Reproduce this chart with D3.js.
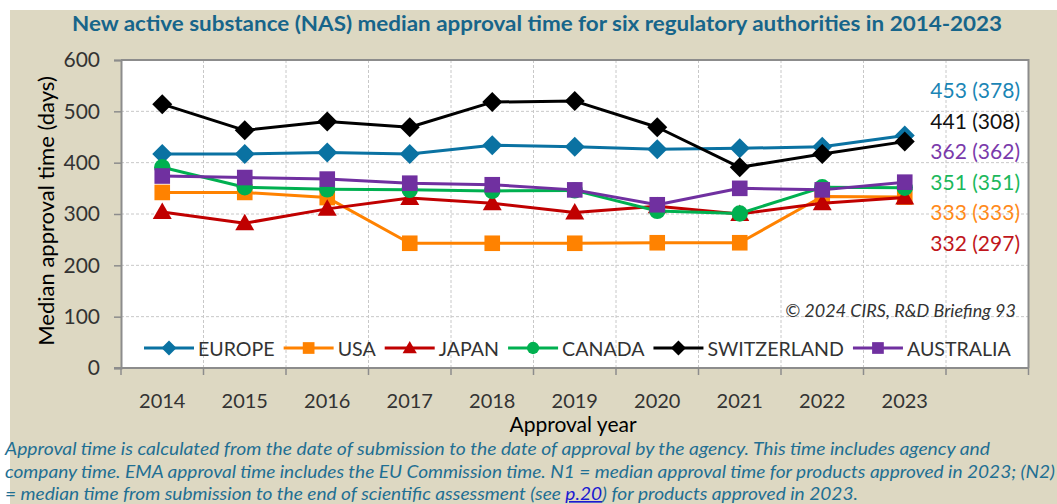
<!DOCTYPE html>
<html>
<head>
<meta charset="utf-8">
<script src="https://d3js.org/d3.v7.min.js"></script>
<style>
  body { margin: 0; background: #fff; }
  svg { display: block; font-family: Lato, "Open Sans", sans-serif; }
</style>
</head>
<body>
<svg width="1057" height="504"></svg>
<script>
// data
var years = ["2014", "2015", "2016", "2017", "2018", "2019", "2020", "2021", "2022", "2023"];
var europe      = [417, 417, 420, 417, 434, 431, 426, 428, 431, 453];
var usa         = [342, 342, 332, 243, 243, 243, 244, 244, 334, 333];
var japan       = [304, 282, 310, 331, 321, 303, 315, 300, 321, 332];
var canada      = [391, 352, 348, 347, 345, 346, 306, 301, 352, 351];
var switzerland = [514, 463, 480, 469, 518, 520, 469, 391, 417, 441];
var australia   = [374, 371, 368, 360, 357, 347, 318, 350, 347, 362];
var seriesNames = ["EUROPE", "USA", "JAPAN", "CANADA", "SWITZERLAND", "AUSTRALIA"];
var endLabels = ["453 (378)", "441 (308)", "362 (362)", "351 (351)", "333 (333)", "332 (297)"];
var endLabelSeries = ["EUROPE", "SWITZERLAND", "AUSTRALIA", "CANADA", "USA", "JAPAN"];
var yTicks = [0, 100, 200, 300, 400, 500, 600];

var values = {
  EUROPE: europe, USA: usa, JAPAN: japan,
  CANADA: canada, SWITZERLAND: switzerland, AUSTRALIA: australia
};
var colors = {
  EUROPE: "#0a72a2", USA: "#ff8200", JAPAN: "#c00000",
  CANADA: "#00b050", SWITZERLAND: "#000000", AUSTRALIA: "#7030a0"
};
var textColors = {
  EUROPE: "#1a85b5", USA: "#ff8a1a", JAPAN: "#c0161c",
  CANADA: "#1cb85c", SWITZERLAND: "#111", AUSTRALIA: "#7a3aab"
};
var shapes = {
  EUROPE: "diamond", USA: "square", JAPAN: "triangle",
  CANADA: "circle", SWITZERLAND: "diamond", AUSTRALIA: "square"
};

var svg = d3.select("svg");

var plotLeft = 121, plotRight = 1028.5, plotTop = 60, plotBottom = 368;

// background
svg.append("rect")
  .attr("x", 10).attr("y", 10).attr("width", 1047).attr("height", 494)
  .attr("fill", "#ddd8c2");
svg.append("rect")
  .attr("x", plotLeft).attr("y", plotTop)
  .attr("width", plotRight - plotLeft).attr("height", plotBottom - plotTop)
  .attr("fill", "#fff");

// scales: 11 bands, the last one is empty room for the labels
var x = d3.scaleBand()
  .domain(years.concat(["_"]))
  .range([plotLeft, plotRight])
  .padding(0);
var y = d3.scaleLinear().domain([0, 600]).range([plotBottom, plotTop]);
var cx = function(i) { return x(years[i]) + x.bandwidth() / 2; };

// grid
var grid = svg.append("g").attr("class", "grid")
  .attr("stroke", "#c8c8c8").attr("stroke-dasharray", "3,2").attr("stroke-width", 1);
grid.selectAll("line.h")
  .data(yTicks.filter(function(d) { return d > 0 && d < 600; }))
  .enter().append("line")
  .attr("x1", plotLeft).attr("x2", plotRight)
  .attr("y1", function(d) { return y(d); }).attr("y2", function(d) { return y(d); });
grid.selectAll("line.v")
  .data(x.domain().slice(1))
  .enter().append("line")
  .attr("y1", plotTop).attr("y2", plotBottom)
  .attr("x1", function(d) { return x(d); }).attr("x2", function(d) { return x(d); });

// frame top / right
svg.append("path")
  .attr("d", "M" + plotLeft + "," + plotTop + "H" + plotRight + "V" + plotBottom)
  .attr("fill", "none").attr("stroke", "#8c8c8c").attr("stroke-width", 2);

// y axis
var yAxis = svg.append("g")
  .attr("transform", "translate(" + plotLeft + ",0)")
  .call(d3.axisLeft(y).tickValues(yTicks).tickSize(7).tickPadding(14));
yAxis.select(".domain").attr("stroke", "#8c8c8c").attr("stroke-width", 2);
yAxis.selectAll(".tick line").attr("stroke", "#8c8c8c").attr("stroke-width", 1.5);
yAxis.selectAll(".tick text")
  .attr("font-size", 21).attr("fill", "#333").attr("font-family", "Lato, sans-serif");

// x axis
var xAxis = svg.append("g").attr("class", "x-axis");
xAxis.append("line")
  .attr("x1", plotLeft - 7).attr("x2", plotRight)
  .attr("y1", plotBottom).attr("y2", plotBottom)
  .attr("stroke", "#8c8c8c").attr("stroke-width", 2);
xAxis.selectAll("line.tick")
  .data(x.domain().map(function(d) { return x(d); }).concat([plotRight]))
  .enter().append("line")
  .attr("x1", function(d) { return d; }).attr("x2", function(d) { return d; })
  .attr("y1", plotBottom).attr("y2", plotBottom + 7)
  .attr("stroke", "#8c8c8c").attr("stroke-width", 1.5);
xAxis.selectAll("text")
  .data(years)
  .enter().append("text")
  .attr("x", function(d, i) { return cx(i); })
  .attr("y", 408)
  .attr("text-anchor", "middle")
  .attr("font-size", 20).attr("fill", "#333")
  .text(function(d) { return d; });

// axis titles
svg.append("text")
  .attr("x", 573).attr("y", 432)
  .attr("text-anchor", "middle").attr("font-size", 21).attr("fill", "#000")
  .text("Approval year");
svg.append("text")
  .attr("transform", "translate(54,211) rotate(-90)")
  .attr("text-anchor", "middle").attr("font-size", 22).attr("fill", "#000")
  .text("Median approval time (days)");

// title
svg.append("text")
  .attr("x", 537).attr("y", 31)
  .attr("text-anchor", "middle").attr("font-size", 21).attr("font-weight", "bold")
  .attr("fill", "#17658a")
  .attr("textLength", 930).attr("lengthAdjust", "spacingAndGlyphs")
  .text("New active substance (NAS) median approval time for six regulatory authorities in 2014-2023");

// marker drawing
function marker(g, shape, s, color) {
  if (shape === "diamond") {
    g.append("path").attr("d", "M0," + (-s) + "L" + s + ",0L0," + s + "L" + (-s) + ",0Z").attr("fill", color);
  } else if (shape === "square") {
    g.append("rect").attr("x", -s * 0.78).attr("y", -s * 0.78)
      .attr("width", s * 1.56).attr("height", s * 1.56).attr("fill", color);
  } else if (shape === "triangle") {
    g.append("path").attr("d", "M0," + (-s * 0.95) + "L" + (s * 0.95) + "," + (s * 0.7) + "L" + (-s * 0.95) + "," + (s * 0.7) + "Z").attr("fill", color);
  } else {
    g.append("circle").attr("r", s * 0.82).attr("fill", color);
  }
}

var line = d3.line()
  .x(function(d, i) { return cx(i); })
  .y(function(d) { return y(d); });

seriesNames.forEach(function(name) {
  var g = svg.append("g").attr("class", "series");
  g.append("path")
    .datum(values[name])
    .attr("d", line)
    .attr("fill", "none")
    .attr("stroke", colors[name])
    .attr("stroke-width", 3)
    .attr("stroke-linejoin", "round");
  values[name].forEach(function(v, i) {
    var m = g.append("g").attr("transform", "translate(" + cx(i) + "," + y(v) + ")");
    marker(m, shapes[name], 10, colors[name]);
  });
});

// legend
var legend = svg.append("g").attr("class", "legend");
var lx = 144;
seriesNames.forEach(function(name) {
  var item = legend.append("g").attr("transform", "translate(" + lx + ",348)");
  item.append("line").attr("x1", 0).attr("x2", 50)
    .attr("stroke", colors[name]).attr("stroke-width", 3);
  marker(item.append("g").attr("transform", "translate(25,0)"), shapes[name], 7.5, colors[name]);
  var t = item.append("text")
    .attr("x", 54).attr("y", 7.5)
    .attr("font-size", 19.6).attr("fill", "#333")
    .text(name);
  lx += 54 + t.node().getComputedTextLength() + 9;
});

// copyright
svg.append("text")
  .attr("x", 1016).attr("y", 317)
  .attr("text-anchor", "end").attr("font-size", 18).attr("font-style", "italic")
  .attr("fill", "#333")
  .text("\u00a9 2024 CIRS, R&D Briefing 93");

// end labels
svg.selectAll("text.end")
  .data(endLabels)
  .enter().append("text")
  .attr("class", "end")
  .attr("x", 1020)
  .attr("y", function(d, i) { return 98 + i * 30.6; })
  .attr("text-anchor", "end")
  .attr("font-size", 21)
  .attr("fill", function(d, i) { return textColors[endLabelSeries[i]]; })
  .text(function(d) { return d; });

// footnote
var notes = [
  "Approval time is calculated from the date of submission to the date of approval by the agency. This time includes agency and",
  "company time. EMA approval time includes the EU Commission time. N1 = median approval time for products approved in 2023; (N2)"
];
var noteLens = [985, 1050];
notes.forEach(function(s, i) {
  svg.append("text")
    .attr("x", 5).attr("y", 455 + i * 22.5)
    .attr("font-size", 16.5).attr("font-style", "italic").attr("fill", "#1f6f93")
    .attr("textLength", noteLens[i]).attr("lengthAdjust", "spacingAndGlyphs")
    .text(s);
});
var last = svg.append("text")
  .attr("x", 5).attr("y", 500)
  .attr("font-size", 16.5).attr("font-style", "italic").attr("fill", "#1f6f93")
  .attr("textLength", 853).attr("lengthAdjust", "spacingAndGlyphs");
last.append("tspan").text("= median time from submission to the end of scientific assessment (see ");
last.append("tspan").attr("fill", "#1a1ad0").attr("text-decoration", "underline").text("p.20");
last.append("tspan").text(") for products approved in 2023.");
</script>
</body>
</html>
